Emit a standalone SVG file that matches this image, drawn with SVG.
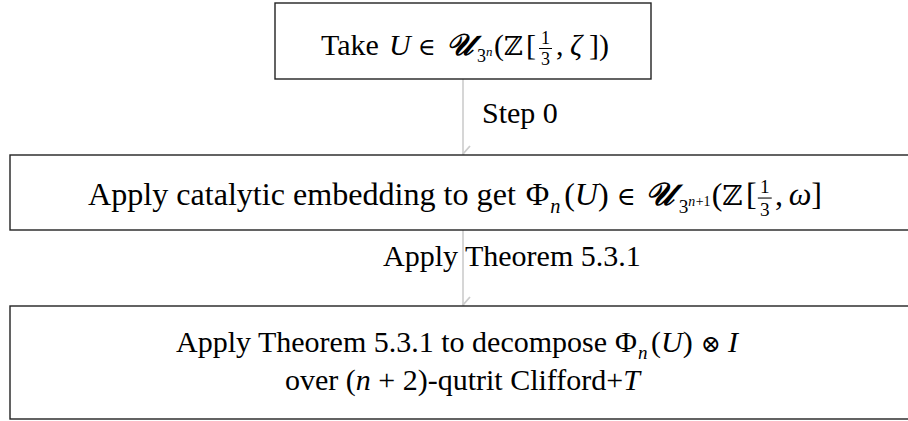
<svg xmlns="http://www.w3.org/2000/svg" width="908" height="421" viewBox="0 0 908 421">
<style>
.box{fill:#fff;stroke:#222;stroke-width:1.4}
.t{font-family:"Liberation Serif","Times New Roman",serif;font-size:30px;fill:#000}
.i{font-style:italic}
.s{font-size:18px}
.sn{font-size:19px}
.ss{font-size:13px}
.f{font-size:18px}
.bb{font-family:"DejaVu Serif","DejaVu Sans",serif;font-size:26px}
.cal{font-family:"DejaVu Sans","Noto Sans",serif;font-size:30px;font-weight:bold;font-style:italic}
.op{font-family:"DejaVu Serif","DejaVu Sans",serif;font-size:24px}
.edge{stroke:#cccccc;stroke-width:1.6;fill:none}
.bar{stroke:#000;stroke-width:1}
</style>
<defs>
<marker id="ah" viewBox="0 0 20 10" refX="10" refY="9" markerWidth="20" markerHeight="10" markerUnits="userSpaceOnUse" orient="auto">
<path d="M2,2 L10,9 L18,2" fill="none" stroke="#cccccc" stroke-width="1.8"/>
</marker>
</defs>
<g id="connectors">
<line class="edge" x1="463" y1="79" x2="463" y2="154" marker-end="url(#ah)"/>
<text class="t" x="482" y="123">Step 0</text>
<line class="edge" x1="463" y1="230" x2="463" y2="305" marker-end="url(#ah)"/>
<text class="t" x="383" y="266">Apply Theorem 5.3.1</text>
</g>
<g id="node1">
<rect class="box" x="275" y="3" width="376" height="76"/>
<g transform="translate(321,55)">
<text class="t" x="0" y="0">Take</text>
<text class="t i" x="68" y="0">U</text>
<text class="op" x="97" y="0">∈</text>
<text class="cal" x="125" y="0">𝒰</text>
<text class="t s" x="156" y="7">3</text>
<text class="t i ss" x="165" y="1">n</text>
<text class="t" x="173" y="0">(</text>
<text class="bb" x="183" y="0">ℤ</text>
<text class="t" x="205" y="0">[</text>
<text class="t f" x="220" y="-11">1</text>
<line class="bar" x1="218" y1="-6.5" x2="231" y2="-6.5"/>
<text class="t f" x="220" y="10">3</text>
<text class="t" x="235" y="0">,</text>
<text class="t i" x="249" y="0">ζ</text>
<text class="t" x="268" y="0">])</text>
</g>
</g>
<g id="node2">
<rect class="box" x="10" y="155" width="906" height="75"/>
<g transform="translate(88,205) scale(1.07)">
<text class="t" x="0" y="0">Apply catalytic embedding to get</text>
<text class="t" x="409" y="0">Φ</text>
<text class="t i sn" x="432" y="7">n</text>
<text class="t" x="445" y="0">(<tspan class="i">U</tspan>)</text>
<text class="op" x="494" y="0">∈</text>
<text class="cal" x="521" y="0">𝒰</text>
<text class="t s" x="552" y="7">3</text>
<text class="t i ss" x="561" y="1">n</text>
<text class="t ss" x="568" y="1">+1</text>
<text class="t" x="583" y="0">(</text>
<text class="bb" x="593" y="0">ℤ</text>
<text class="t" x="615" y="0">[</text>
<text class="t f" x="628" y="-11">1</text>
<line class="bar" x1="626" y1="-6.5" x2="639" y2="-6.5"/>
<text class="t f" x="628" y="10">3</text>
<text class="t" x="642" y="0">,</text>
<text class="t i" x="655" y="0">ω</text>
<text class="t" x="676" y="0">]</text>
</g>
</g>
<g id="node3">
<rect class="box" x="10" y="306" width="906" height="113"/>
<g transform="translate(176,352)">
<text class="t" x="0" y="0">Apply Theorem 5.3.1 to decompose</text>
<text class="t" x="439" y="0">Φ</text>
<text class="t i sn" x="462" y="7">n</text>
<text class="t" x="475" y="0">(<tspan class="i">U</tspan>)</text>
<text class="op" x="525" y="0">⊗</text>
<text class="t i" x="552" y="0">I</text>
</g>
<text class="t" x="285" y="390">over (<tspan class="i">n</tspan> + 2)-qutrit Clifford+<tspan class="i">T</tspan></text>
</g>
</svg>
